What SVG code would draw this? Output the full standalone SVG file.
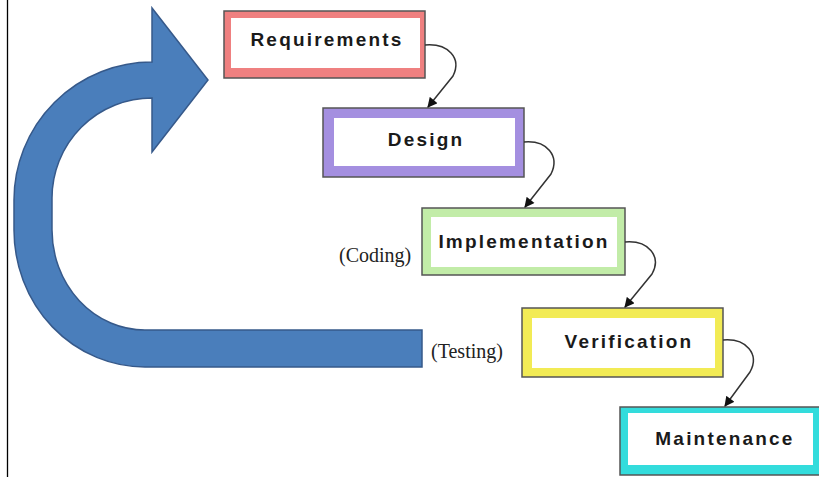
<svg xmlns="http://www.w3.org/2000/svg" width="819" height="477" viewBox="0 0 819 477">
<style>
.frame{stroke:#555555;stroke-width:1.5}
.inner{fill:#ffffff;stroke:none}
.lbl{font-family:"Liberation Sans",Arial,sans-serif;font-weight:bold;font-size:19px;letter-spacing:2.2px;fill:#1a1a1a;text-anchor:middle}
.note{font-family:"Liberation Serif","Times New Roman",serif;font-size:20px;fill:#222}
.con{fill:none;stroke:#333;stroke-width:1.5}
</style>
<defs>
<marker id="ah" viewBox="0 0 10 10" refX="9" refY="5" markerWidth="11" markerHeight="10" markerUnits="userSpaceOnUse" orient="auto">
<path d="M0,0 L10,5 L0,10 z" fill="#111"/>
</marker>
</defs>
<rect width="819" height="477" fill="#ffffff"/>
<line x1="7.5" y1="0" x2="7.5" y2="477" stroke="#000" stroke-width="1.3"/>

<g id="loop-arrow">
<path d="M152 62 A138 138 0 0 0 14 200 L14 230 A131 137 0 0 0 145 367 L422 367 L422 330 L145 330 A93 100 0 0 1 52 230 L52 198 A100 100 0 0 1 152 98 L152 152 L208 80 L152 8 Z" fill="#4a7ebb" stroke="#36598a" stroke-width="1.5" stroke-linejoin="miter"/>
</g>

<g id="node-requirements">
<rect class="frame" x="224" y="11" width="201" height="67" fill="#ef8080"/>
<rect class="inner" x="231" y="18" width="189" height="50"/>
<text class="lbl" x="327" y="46">Requirements</text>
</g>

<g id="node-design">
<rect class="frame" x="323" y="108" width="201" height="69" fill="#a48fe0"/>
<rect class="inner" x="334" y="118" width="181" height="48"/>
<text class="lbl" x="426" y="146">Design</text>
</g>

<g id="node-implementation">
<rect class="frame" x="422" y="208" width="203" height="67" fill="#c2eca8"/>
<rect class="inner" x="431" y="217" width="186" height="50"/>
<text class="lbl" x="524" y="248">Implementation</text>
<text class="note" x="339" y="262">(Coding)</text>
</g>

<g id="node-verification">
<rect class="frame" x="522" y="308" width="201" height="69" fill="#f2eb55"/>
<rect class="inner" x="532" y="318" width="183" height="50"/>
<text class="lbl" x="629" y="348">Verification</text>
<text class="note" x="431" y="358">(Testing)</text>
</g>

<g id="node-maintenance">
<rect class="frame" x="620" y="407" width="205" height="68" fill="#33dcdc"/>
<rect class="inner" x="628" y="413" width="185" height="52"/>
<text class="lbl" x="725" y="445">Maintenance</text>
</g>

<g id="connectors">
<path class="con" d="M425 45 C448 43 462 58 453 76 L428 107" marker-end="url(#ah)"/>
<path class="con" d="M524 142 C547 140 560 156 551 174 L525 207" marker-end="url(#ah)"/>
<path class="con" d="M625 242 C648 240 662 256 652 274 L625 307" marker-end="url(#ah)"/>
<path class="con" d="M723 340 C746 338 760 354 750 372 L725 406" marker-end="url(#ah)"/>
</g>
</svg>
